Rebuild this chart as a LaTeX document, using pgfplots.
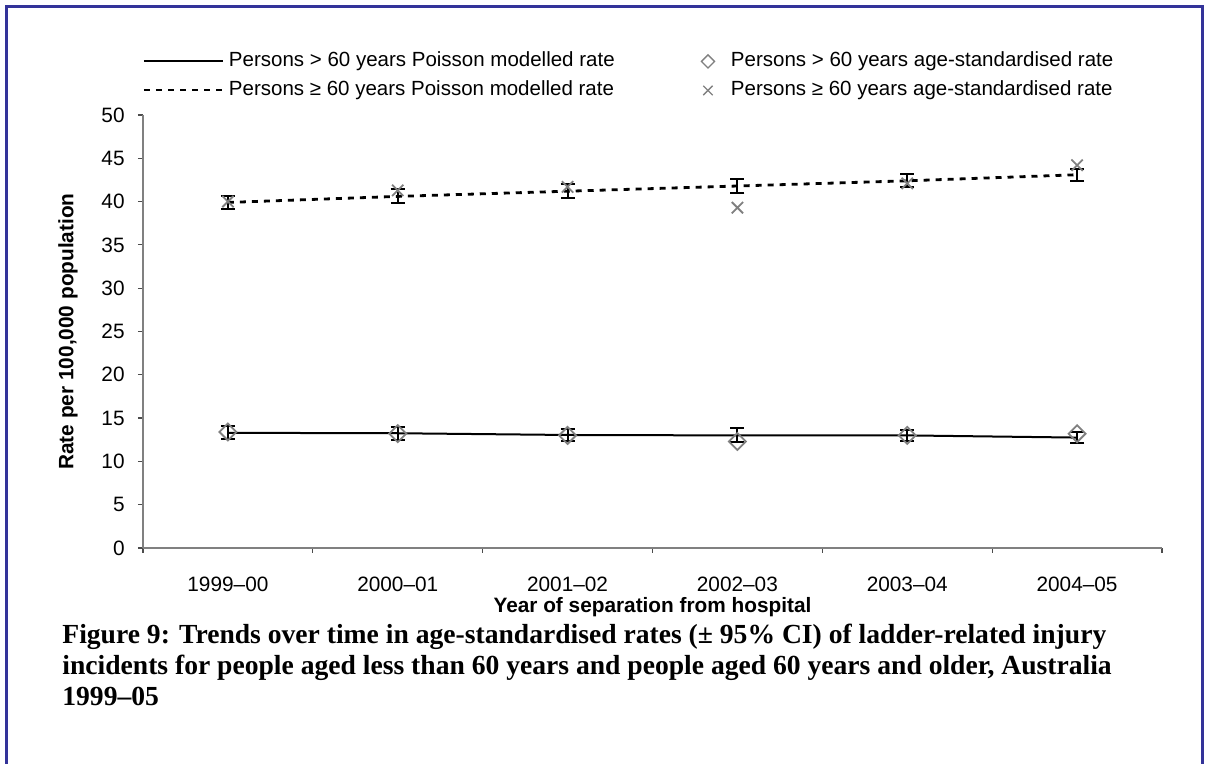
\documentclass[border=0pt]{standalone}
\usepackage{fontspec}
\setmainfont{Liberation Sans}
\newfontfamily\capfont{Liberation Serif}
\usepackage{pgfplots}
\usepackage{pgfplotstable}
\pgfplotsset{compat=1.18}
\definecolor{framecol}{RGB}{51,51,153}
\definecolor{markgray}{RGB}{128,128,128}

% rates per 100,000; lo = solid series, hi = dashed series
\pgfplotstableread{
x   lo    loerr  lostd  hi    hierr  histd
0   13.30 0.75   13.4   39.90 0.80   40.0
1   13.25 0.75   13.2   40.60 0.80   41.3
2   13.05 0.70   13.0   41.20 0.80   41.7
3   13.00 0.80   12.3   41.80 0.80   39.3
4   13.00 0.65   13.0   42.40 0.75   42.1
5   12.75 0.65   13.2   43.10 0.70   44.2
}\ratedata

\begin{document}
\begin{tikzpicture}
\path[use as bounding box] (-71.5pt,-108pt) rectangle (531pt,274pt);
\draw[framecol, line width=1.5pt] (-68pt,-108pt) -- (-68pt,270.5pt) -- (529.5pt,270.5pt) -- (529.5pt,-108pt);

\begin{axis}[
    at={(0pt,0pt)}, anchor=south west,
    scale only axis, width=509.5pt, height=216.5pt,
    xmin=-0.5, xmax=5.5, ymin=0, ymax=50,
    clip=false,
    axis x line*=bottom, axis y line*=left,
    axis line style={markgray, line width=1pt},
    tick align=outside,
    xtick={0,...,5},
    xticklabels={1999--00,2000--01,2001--02,2002--03,2003--04,2004--05},
    major x tick style={draw=none},
    minor xtick={-0.5,0.5,...,5.5},
    ytick={0,5,...,50},
    major tick length=2.5pt, minor tick length=2.5pt,
    tick style={black!70, line width=0.6pt},
    /pgf/number format/assume math mode=true,
    tick label style={font=\fontsize{10.4}{12}\selectfont},
    xticklabel style={anchor=center, inner sep=0pt, yshift=-15.5pt},
    yticklabel style={anchor=east, inner sep=0pt, xshift=-6.5pt},
    xlabel={\bfseries Year of separation from hospital},
    ylabel={\bfseries Rate per 100,000 population},
    label style={font=\fontsize{10.4}{12}\selectfont, inner sep=0pt},
    xlabel style={at={(axis description cs:0.5,-0.136)}, anchor=center},
    ylabel style={at={(axis description cs:-0.0736,0.5)}, anchor=center},
    legend columns=2,
    legend cell align=left,
    legend style={draw=none, fill=none, at={(axis description cs:0,1)}, anchor=west,
        yshift=19.5pt, inner sep=0pt, outer sep=0pt, column sep=0pt, row sep=5.5pt,
        nodes={inner sep=0pt, text height=7pt, text depth=2pt, font=\fontsize{10.25}{12}\selectfont},
        /tikz/every even column/.style={column sep=0pt}},
]
\addplot[black, line width=1pt, mark=none,
    legend image code/.code={\draw[black, line width=1pt] (0pt,0pt) -- (39.5pt,0pt);
        \path[draw=none, fill=none] (0pt,-3pt) (42.5pt,3pt);},
    error bars/.cd, y dir=both, y explicit, error mark=|,
    error bar style={black, line width=1pt, solid},
    error mark options={black, mark size=3.5pt, line width=1pt, solid}]
    table[x=x, y=lo, y error=loerr] {\ratedata};
\addlegendentry{\makebox[233.75pt][l]{Persons > 60 years Poisson modelled rate}}

\addplot[only marks, mark=square, mark size=3pt, markgray, line width=0.9pt,
    mark options={rotate=45},
    legend image code/.code={\draw[markgray, line width=0.7pt, mark=square, mark size=2.3pt, mark options={rotate=45}]
        plot coordinates {(5.75pt,0pt)}; \path[draw=none, fill=none] (0pt,-3pt) (17.25pt,3pt);}]
    table[x=x, y=lostd] {\ratedata};
\addlegendentry{Persons > 60 years age-standardised rate}

\addplot[black, line width=1.4pt, dash pattern=on 3pt off 3pt, mark=none,
    legend image code/.code={\draw[black, line width=1pt, dash pattern=on 3pt off 3pt] (0pt,0pt) -- (39.5pt,0pt);
        \path[draw=none, fill=none] (0pt,-3pt) (42.5pt,3pt);},
    error bars/.cd, y dir=both, y explicit, error mark=|,
    error bar style={black, line width=1pt, solid},
    error mark options={black, mark size=3.5pt, line width=1pt, solid}]
    table[x=x, y=hi, y error=hierr] {\ratedata};
\addlegendentry{\makebox[233.75pt][l]{Persons ≥ 60 years Poisson modelled rate}}

\addplot[only marks, mark=x, mark size=4pt, markgray, line width=0.9pt,
    legend image code/.code={\draw[markgray, line width=0.7pt, mark=x, mark size=3.3pt]
        plot coordinates {(5.75pt,0pt)}; \path[draw=none, fill=none] (0pt,-3pt) (17.25pt,3pt);}]
    table[x=x, y=histd] {\ratedata};
\addlegendentry{Persons ≥ 60 years age-standardised rate}
\end{axis}

\begin{scope}[every node/.style={anchor=base west, inner sep=0pt, font=\capfont\bfseries\fontsize{13.8}{16}\selectfont}]
\node at (-40.5pt,-48pt)
    {Figure 9: Trends over time in age-standardised rates (± 95\% CI) of ladder-related injury};
\node at (-40.5pt,-63.5pt)
    {incidents for people aged less than 60 years and people aged 60 years and older, Australia};
\node at (-40.5pt,-79pt)
    {1999–05};
\end{scope}
\end{tikzpicture}
\end{document}
